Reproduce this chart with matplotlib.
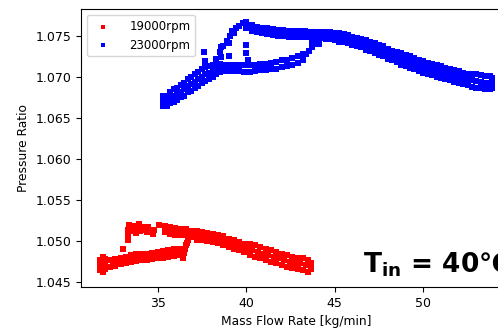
import matplotlib
matplotlib.use("Agg")
import matplotlib.pyplot as plt

# pressure ratio vs mass flow rate, Tin = 40C
labels = ["19000rpm", "23000rpm"]
colors = ["red", "blue"]

# 19000 rpm (mass flow [kg/min], pressure ratio)
pts_19000 = [
    # surge-side cluster
    (31.75, 1.0465), (31.75, 1.0471), (31.75, 1.0477), (31.9, 1.0463), (31.9, 1.0469),
    (31.9, 1.0475), (31.9, 1.0481), (32.05, 1.0466), (32.05, 1.0472), (32.05, 1.0478),
    # lower branch
    (32.3, 1.0469), (32.3, 1.0477), (32.45, 1.0473), (32.6, 1.0470), (32.6, 1.0478),
    (32.75, 1.0475), (32.9, 1.0472), (32.9, 1.0480), (33.05, 1.0476), (33.2, 1.0473),
    (33.2, 1.0481), (33.35, 1.0478), (33.5, 1.0475), (33.5, 1.0483), (33.65, 1.0480),
    (33.8, 1.0476), (33.8, 1.0484), (33.95, 1.0480), (34.1, 1.0477), (34.1, 1.0485),
    (34.25, 1.0481), (34.4, 1.0477), (34.4, 1.0485), (34.55, 1.0482), (34.7, 1.0478),
    (34.7, 1.0486), (34.85, 1.0482), (35.0, 1.0479), (35.0, 1.0487), (35.15, 1.0483),
    (35.3, 1.0480), (35.3, 1.0488), (35.45, 1.0484), (35.6, 1.0481), (35.6, 1.0489),
    (35.75, 1.0485), (35.9, 1.0482), (35.9, 1.0490), (36.05, 1.0486), (36.2, 1.0483),
    (36.2, 1.0491), (36.35, 1.0487),
    (36.45, 1.0480), (36.5, 1.0486), (36.55, 1.0491), (36.6, 1.0495), (36.65, 1.0498),
    (36.7, 1.0501),
    # upper-left branch
    (33.05, 1.0491), (33.3, 1.0501), (33.3, 1.0508), (33.35, 1.0514), (33.4, 1.0520),
    (33.55, 1.0513), (33.6, 1.0519), (33.75, 1.0510), (33.8, 1.0516), (33.95, 1.0521),
    (34.0, 1.0512), (34.1, 1.0517), (34.25, 1.0514), (34.4, 1.0511), (34.45, 1.0517),
    (34.6, 1.0512), (34.75, 1.0509), (34.8, 1.0514),
    # upper band
    (35.1, 1.0520), (35.4, 1.0511), (35.4, 1.0519), (35.55, 1.0514), (35.7, 1.0509),
    (35.7, 1.0517), (35.85, 1.0513), (36.0, 1.0508), (36.0, 1.0516), (36.15, 1.0511),
    (36.3, 1.0507), (36.3, 1.0515), (36.45, 1.0511), (36.6, 1.0507), (36.6, 1.0515),
    (36.75, 1.0510), (36.9, 1.0505), (36.9, 1.0513), (37.05, 1.0508), (37.2, 1.0502),
    (37.2, 1.0512), (37.35, 1.0507), (37.5, 1.0501), (37.5, 1.0511), (37.65, 1.0505),
    (37.8, 1.0500), (37.8, 1.0510), (37.95, 1.0505), (38.1, 1.0499), (38.1, 1.0509),
    (38.25, 1.0503), (38.4, 1.0498), (38.4, 1.0508), (38.55, 1.0502), (38.7, 1.0496),
    (38.7, 1.0506), (38.85, 1.0500), (39.0, 1.0493), (39.0, 1.0503), (39.15, 1.0497),
    (39.3, 1.0491), (39.3, 1.0501), (39.45, 1.0495), (39.6, 1.0489), (39.6, 1.0499),
    (39.75, 1.0493), (39.9, 1.0487), (39.9, 1.0497), (40.05, 1.0491), (40.2, 1.0483),
    (40.2, 1.0497), (40.35, 1.0489), (40.5, 1.0481), (40.5, 1.0495), (40.65, 1.0487),
    (40.8, 1.0479), (40.8, 1.0493), (40.95, 1.0485), (41.1, 1.0477), (41.1, 1.0491),
    (41.25, 1.0483), (41.4, 1.0475), (41.4, 1.0489), (41.55, 1.0481), (41.7, 1.0473),
    (41.7, 1.0487), (41.85, 1.0479), (42.0, 1.0471), (42.0, 1.0485), (42.15, 1.0477),
    (42.3, 1.0469), (42.3, 1.0483), (42.45, 1.0475), (42.6, 1.0467), (42.6, 1.0481),
    (42.75, 1.0474), (42.9, 1.0466), (42.9, 1.0480), (43.05, 1.0473), (43.2, 1.0465),
    (43.2, 1.0479), (43.35, 1.0471), (43.5, 1.0463), (43.5, 1.0477), (43.65, 1.0466),
    (43.65, 1.0473),
]

# 23000 rpm
pts_23000 = [
    # surge-side cloud
    (35.3, 1.0665), (35.3, 1.0671), (35.3, 1.0677), (35.5, 1.0664), (35.5, 1.0670),
    (35.5, 1.0677), (35.7, 1.0668), (35.7, 1.0674), (35.7, 1.0681), (35.9, 1.0670),
    (35.9, 1.0677), (35.9, 1.0685), (36.1, 1.0672), (36.1, 1.0679), (36.1, 1.0687),
    (36.3, 1.0675), (36.3, 1.0682), (36.3, 1.0690), (36.5, 1.0677), (36.5, 1.0685),
    (36.5, 1.0693), (36.7, 1.0681), (36.7, 1.0689), (36.7, 1.0698), (36.9, 1.0683),
    (36.9, 1.0691), (36.9, 1.0700), (37.1, 1.0686), (37.1, 1.0694), (37.1, 1.0703),
    (37.3, 1.0689), (37.3, 1.0697), (37.3, 1.0706), (37.5, 1.0692), (37.5, 1.0700),
    (37.5, 1.0709), (37.7, 1.0695), (37.7, 1.0703), (37.7, 1.0712), (37.9, 1.0698),
    (37.9, 1.0705), (37.9, 1.0713), (38.1, 1.0700), (38.1, 1.0707), (38.1, 1.0714),
    (38.3, 1.0703), (38.3, 1.0709), (38.3, 1.0715), (38.5, 1.0706), (38.5, 1.0711),
    (38.5, 1.0716),
    # scattered transition points
    (37.6, 1.0730), (37.7, 1.0719), (38.6, 1.0736), (38.6, 1.0724), (39.0, 1.0726),
    (40.0, 1.0739), (40.0, 1.0729), (40.1, 1.0720),
    # lower loop branch
    (38.7, 1.0707), (38.7, 1.0715), (39.0, 1.0707), (39.0, 1.0715), (39.3, 1.0707),
    (39.3, 1.0715), (39.6, 1.0707), (39.6, 1.0715), (39.9, 1.0706), (39.9, 1.0714),
    (40.2, 1.0706), (40.2, 1.0714), (40.5, 1.0707), (40.5, 1.0715), (40.8, 1.0708),
    (40.8, 1.0716), (41.1, 1.0708), (41.1, 1.0716), (41.4, 1.0709), (41.4, 1.0717),
    (41.7, 1.0710), (41.7, 1.0718), (42.0, 1.0712), (42.0, 1.0720), (42.3, 1.0713),
    (42.3, 1.0721), (42.6, 1.0715), (42.6, 1.0723), (42.9, 1.0717), (42.9, 1.0725),
    (43.2, 1.0720), (43.2, 1.0728), (43.4, 1.0728), (43.55, 1.0732), (43.7, 1.0736),
    (43.8, 1.0740), (43.9, 1.0744), (44.0, 1.0748), (44.1, 1.0740), (43.7, 1.0744),
    # upper loop branch
    (38.3, 1.0722), (38.5, 1.0730), (38.7, 1.0738), (38.9, 1.0744), (39.0, 1.0741),
    (39.1, 1.0750), (39.2, 1.0756), (39.3, 1.0753), (39.4, 1.0760), (39.6, 1.0762),
    (39.8, 1.0765), (40.0, 1.0767), (40.0, 1.0760), (40.15, 1.0761), (40.3, 1.0763),
    (40.3, 1.0756), (40.45, 1.0758), (40.6, 1.0761), (40.6, 1.0754), (40.75, 1.0757),
    (40.9, 1.0760), (40.9, 1.0753), (41.05, 1.0756), (41.2, 1.0759), (41.2, 1.0752),
    (41.35, 1.0755), (41.5, 1.0758), (41.5, 1.0751), (41.65, 1.0754), (41.8, 1.0757),
    (41.8, 1.0750), (41.95, 1.0753), (42.1, 1.0757), (42.1, 1.0750), (42.25, 1.0753),
    (42.4, 1.0756), (42.4, 1.0749), (42.55, 1.0752), (42.7, 1.0756), (42.7, 1.0749),
    (42.85, 1.0753), (43.0, 1.0756), (43.0, 1.0749), (43.15, 1.0752), (43.3, 1.0756),
    (43.3, 1.0749), (43.45, 1.0752), (43.6, 1.0755), (43.6, 1.0748), (43.75, 1.0751),
    (43.9, 1.0755), (43.9, 1.0748), (44.05, 1.0751), (44.2, 1.0755), (44.2, 1.0747),
    (44.35, 1.0751),
    # choke-side band
    (44.5, 1.0746), (44.5, 1.0750), (44.5, 1.0754),
    (44.75, 1.0746), (44.75, 1.0750), (44.75, 1.0754),
    (45.0, 1.0745), (45.0, 1.0749), (45.0, 1.0753),
    (45.25, 1.0743), (45.25, 1.0748), (45.25, 1.0753),
    (45.5, 1.0742), (45.5, 1.0747), (45.5, 1.0752),
    (45.75, 1.0741), (45.75, 1.0746), (45.75, 1.0751),
    (46.0, 1.0739), (46.0, 1.0744), (46.0, 1.0749),
    (46.25, 1.0737), (46.25, 1.0742), (46.25, 1.0747),
    (46.5, 1.0736), (46.5, 1.0741), (46.5, 1.0746),
    (46.75, 1.0733), (46.75, 1.0739), (46.75, 1.0745),
    (47.0, 1.0731), (47.0, 1.0737), (47.0, 1.0743),
    (47.25, 1.0729), (47.25, 1.0735), (47.25, 1.0741),
    (47.5, 1.0727), (47.5, 1.0733), (47.5, 1.0739),
    (47.75, 1.0725), (47.75, 1.0731), (47.75, 1.0737),
    (48.0, 1.0722), (48.0, 1.0728), (48.0, 1.0734),
    (48.25, 1.0720), (48.25, 1.0726), (48.25, 1.0732),
    (48.5, 1.0718), (48.5, 1.0724), (48.5, 1.0730),
    (48.75, 1.0715), (48.75, 1.0722), (48.75, 1.0729),
    (49.0, 1.0713), (49.0, 1.0720), (49.0, 1.0727),
    (49.25, 1.0711), (49.25, 1.0718), (49.25, 1.0725),
    (49.5, 1.0709), (49.5, 1.0716), (49.5, 1.0723),
    (49.75, 1.0707), (49.75, 1.0714), (49.75, 1.0721),
    (50.0, 1.0705), (50.0, 1.0712), (50.0, 1.0719),
    (50.25, 1.0703), (50.25, 1.0710), (50.25, 1.0717),
    (50.5, 1.0702), (50.5, 1.0709), (50.5, 1.0716),
    (50.75, 1.0700), (50.75, 1.0707), (50.75, 1.0714),
    (51.0, 1.0699), (51.0, 1.0706), (51.0, 1.0713),
    (51.25, 1.0697), (51.25, 1.0704), (51.25, 1.0711),
    (51.5, 1.0696), (51.5, 1.0703), (51.5, 1.0710),
    (51.75, 1.0694), (51.75, 1.0701), (51.75, 1.0708),
    (52.0, 1.0693), (52.0, 1.0700), (52.0, 1.0707),
    (52.25, 1.0691), (52.25, 1.0698), (52.25, 1.0705),
    (52.5, 1.0690), (52.5, 1.0697), (52.5, 1.0704),
    (52.75, 1.0688), (52.75, 1.0696), (52.75, 1.0704),
    (53.0, 1.0687), (53.0, 1.0695), (53.0, 1.0703),
    (53.25, 1.0686), (53.25, 1.0694), (53.25, 1.0702),
    (53.5, 1.0685), (53.5, 1.0693), (53.5, 1.0701),
    (53.75, 1.0685), (53.75, 1.0693), (53.75, 1.0701),
    (53.9, 1.0687), (53.9, 1.0693), (53.9, 1.0699),
]

fig = plt.figure(figsize=(4.98, 3.28), dpi=100)
ax = fig.add_axes([0.1627, 0.125, 0.865, 0.8476])

for pts, lab, c in zip([pts_19000, pts_23000], labels, colors):
    xs = [p[0] for p in pts]
    ys = [p[1] for p in pts]
    ax.scatter(xs, ys, marker="s", s=16, c=c, lw=0, label=lab)

ax.set_xlim(30.67, 55.0)
ax.set_ylim(1.04443, 1.07826)
ax.set_xticks([35, 40, 45, 50])
ax.set_yticks([1.045, 1.050, 1.055, 1.060, 1.065, 1.070, 1.075])
ax.tick_params(labelsize=9)
ax.set_xlabel("Mass Flow Rate [kg/min]", fontsize=8.8)
ax.set_ylabel("Pressure Ratio", fontsize=8.8)
ax.spines["right"].set_visible(False)
ax.legend(loc="upper left", fontsize=8.5, markerscale=0.75, handletextpad=1.2)

ax.text(46.6, 1.0462, r"$\mathbf{T_{in}}$ = 40℃", fontsize=19, fontweight="bold",
        family=["DejaVu Sans", "Noto Sans CJK KR"], ha="left", va="baseline")

fig.savefig("out.png", dpi=100)
